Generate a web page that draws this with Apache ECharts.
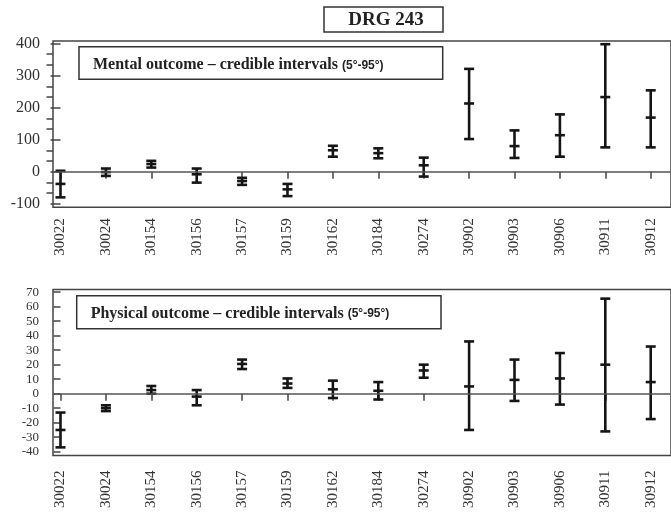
<!DOCTYPE html>
<html>
<head>
<meta charset="utf-8">
<script src="https://cdn.jsdelivr.net/npm/echarts@6/dist/echarts.min.js"></script>
<style>html,body{margin:0;padding:0;background:#fff;}#c{width:671px;height:512px;}</style>
</head>
<body>
<div id="c"></div>
<script>
const categories = ['30022','30024','30154','30156','30157','30159','30162','30184','30274','30902','30903','30906','30911','30912'];

const mentalLow  = [-80, -13, 13, -34, -41, -76, 47, 42, -15, 102, 43, 47, 76, 76];
const mentalMid  = [-38,  -1, 24,  -8, -29, -55, 67, 58,  20, 213, 80, 114, 233, 169];
const mentalHigh = [  3,  10, 34,  10, -19, -38, 81, 73,  44, 321, 129, 179, 398, 254];

const physicalLow  = [-37, -12, 0, -8, 17, 4, -3, -4, 11, -25, -5, -7.5, -26, -17.5];
const physicalMid  = [-25, -10, 2.5, -2, 20.5, 7, 3, 2, 16, 5, 9.5, 10.5, 20, 8];
const physicalHigh = [-13,  -8, 5.3, 2.5, 23.5, 10.5, 9, 8, 20, 36, 23.5, 28, 65.5, 32.5];

const mentalTicks = [-100, 0, 100, 200, 300, 400];
const physicalTicks = [-40, -30, -20, -10, 0, 10, 20, 30, 40, 50, 60, 70];

const catIdx = categories.map((c, i) => i);
const mentalMinor = [];
for (let k = 0; k < mentalTicks.length - 1; k++) {
  const a = mentalTicks[k], b = mentalTicks[k + 1];
  mentalMinor.push(a + (b - a) / 3, a + 2 * (b - a) / 3);
}

const chart = echarts.init(document.getElementById('c'), null, {renderer: 'canvas'});

function renderItem(params, api) {
  const x = api.value(0);
  const pLo = api.coord([x, api.value(1)]);
  const pMid = api.coord([x, api.value(2)]);
  const pHi = api.coord([x, api.value(3)]);
  const hw = 5;
  const style = {stroke: '#151515', lineWidth: 2.6};
  const h = (p) => ({type: 'line', shape: {x1: p[0] - hw, y1: p[1], x2: p[0] + hw, y2: p[1]}, style});
  return {type: 'group', children: [
    {type: 'line', shape: {x1: pLo[0], y1: pLo[1], x2: pHi[0], y2: pHi[1]}, style},
    h(pLo), h(pMid), h(pHi)
  ]};
}

const serif = '"Liberation Serif", "Times New Roman", serif';
const axisColor = '#444';

function xAxis(gridIndex, margin) {
  return {
    type: 'value', gridIndex, min: -0.165, max: 13.447, position: 'bottom',
    splitLine: {show: false},
    axisLine: {show: false},
    axisTick: {show: true, length: 7, customValues: catIdx, lineStyle: {color: axisColor, width: 1.5}},
    axisLabel: {show: true, customValues: catIdx, rotate: 90, margin,
      formatter: (v) => categories[Math.round(v)] || '',
      fontFamily: serif, fontSize: 15, color: '#333'}
  };
}

const option = {
  backgroundColor: '#fff',
  animation: false,
  grid: [
    {left: 53, top: 41, width: 638, height: 166.3, show: true, borderColor: axisColor, borderWidth: 1.5, containLabel: false},
    {left: 53, top: 289.5, width: 638, height: 166, show: true, borderColor: axisColor, borderWidth: 1.5, containLabel: false}
  ],
  xAxis: [xAxis(0, 11), xAxis(1, 15)],
  yAxis: [
    {type: 'value', gridIndex: 0, min: -111, max: 408, position: 'left',
      splitLine: {show: false}, axisLine: {show: false},
      axisTick: {show: true, length: 10, customValues: mentalTicks, lineStyle: {color: axisColor, width: 1.5}},
      axisLabel: {show: true, customValues: mentalTicks, margin: 13, fontFamily: serif, fontSize: 16, color: '#333'}},
    {type: 'value', gridIndex: 0, min: -111, max: 408, position: 'left', offset: 0,
      splitLine: {show: false}, axisLine: {show: false},
      axisTick: {show: true, length: 6.5, customValues: mentalMinor, lineStyle: {color: axisColor, width: 1.5}},
      axisLabel: {show: false}},
    {type: 'value', gridIndex: 1, min: -42.6, max: 71.8, position: 'left',
      splitLine: {show: false}, axisLine: {show: false},
      axisTick: {show: true, length: 7, customValues: physicalTicks, lineStyle: {color: axisColor, width: 1.5}},
      axisLabel: {show: true, customValues: physicalTicks, margin: 14, fontFamily: serif, fontSize: 13, color: '#333'}}
  ],
  series: [
    {type: 'custom', xAxisIndex: 0, yAxisIndex: 0, renderItem,
      encode: {x: 0, y: [1, 2, 3]},
      data: categories.map((c, i) => [i, mentalLow[i], mentalMid[i], mentalHigh[i]]),
      markLine: {silent: true, symbol: 'none', label: {show: false},
        lineStyle: {color: '#555', width: 1.5, type: 'solid'}, data: [{yAxis: 0}]}},
    {type: 'custom', xAxisIndex: 1, yAxisIndex: 2, renderItem,
      encode: {x: 0, y: [1, 2, 3]},
      data: categories.map((c, i) => [i, physicalLow[i], physicalMid[i], physicalHigh[i]]),
      markLine: {silent: true, symbol: 'none', label: {show: false},
        lineStyle: {color: '#555', width: 1.5, type: 'solid'}, data: [{yAxis: 0}]}}
  ],
  graphic: [
    {type: 'rect', shape: {x: 324, y: 7, width: 119, height: 25}, style: {fill: '#fff', stroke: '#333', lineWidth: 1.5}},
    {type: 'text', x: 386, y: 20, style: {text: 'DRG 243', fontFamily: serif, fontWeight: 'bold', fontSize: 19, fill: '#222', align: 'center', verticalAlign: 'middle'}},
    {type: 'rect', shape: {x: 79, y: 46.7, width: 363.7, height: 32.6}, style: {fill: '#fff', stroke: '#333', lineWidth: 1.5}},
    {type: 'text', x: 93, y: 65.3, style: {
      text: '{a|Mental outcome – credible intervals }{b|(5°-95°)}',
      verticalAlign: 'middle', align: 'left',
      rich: {a: {fontFamily: serif, fontWeight: 'bold', fontSize: 16, fill: '#222'},
             b: {fontFamily: '"Liberation Sans", Arial, sans-serif', fontWeight: 'bold', fontSize: 12, fill: '#222'}}}},
    {type: 'rect', shape: {x: 76.7, y: 295.7, width: 364.3, height: 33}, style: {fill: '#fff', stroke: '#333', lineWidth: 1.5}},
    {type: 'text', x: 90.7, y: 314, style: {
      text: '{a|Physical outcome – credible intervals }{b|(5°-95°)}',
      verticalAlign: 'middle', align: 'left',
      rich: {a: {fontFamily: serif, fontWeight: 'bold', fontSize: 16, fill: '#222'},
             b: {fontFamily: '"Liberation Sans", Arial, sans-serif', fontWeight: 'bold', fontSize: 12, fill: '#222'}}}}
  ]
};
chart.setOption(option);
</script>
</body>
</html>
